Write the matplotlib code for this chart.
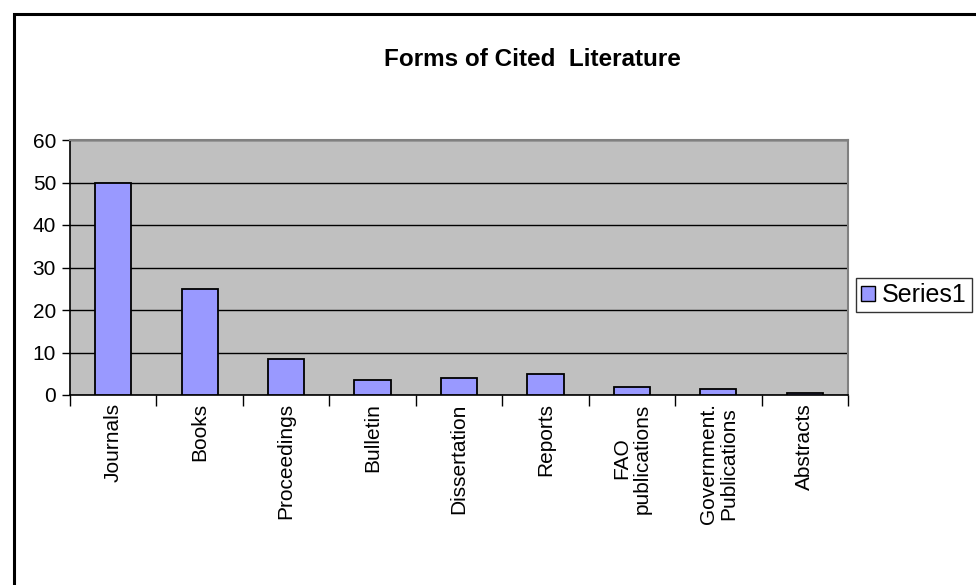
import matplotlib
matplotlib.use("Agg")
import matplotlib.pyplot as plt
from matplotlib.patches import Rectangle, Patch
import numpy as np

plt.rcParams['font.family'] = ['Liberation Sans', 'DejaVu Sans']

categories = ["Journals", "Books", "Proceedings", "Bulletin", "Dissertation",
              "Reports", "FAO\npublications", "Government.\nPublications", "Abstracts"]
values = [50, 25, 8.4, 3.5, 4, 5, 2, 1.5, 0.5]
yticks = [0, 10, 20, 30, 40, 50, 60]
series_name = "Series1"
title = "Forms of Cited  Literature"

W, H = 976, 585
fig = plt.figure(figsize=(W / 100, H / 100), dpi=100)

# outer chart border
fig.patches.append(Rectangle((14 / W, -0.1), 1.2, 1 - 14 / H + 0.1, transform=fig.transFigure,
                             fill=False, edgecolor='black', linewidth=2.2, zorder=0))

ax = fig.add_axes([70 / W, (H - 395) / H, (848 - 70) / W, (395 - 140) / H])
ax.set_facecolor('#C0C0C0')
x = np.arange(len(categories))
ax.bar(x, values, width=0.42, color='#9999FF', edgecolor='black', linewidth=1.3, zorder=3,
       label=series_name)
ax.set_xlim(-0.5, len(categories) - 0.5)
ax.set_ylim(0, 60)
ax.set_yticks(yticks)
ax.set_yticklabels([str(t) for t in yticks], fontsize=15)
ax.yaxis.grid(True, color='black', linewidth=1.0, zorder=1)
ax.set_axisbelow(True)

ax.set_xticks(x)
ax.set_xticklabels(categories, rotation=90, fontsize=15, ha='center', va='top',
                   multialignment='center', linespacing=1.1)
ax.tick_params(axis='x', which='major', length=0, pad=6)
ax.set_xticks(np.arange(-0.5, len(categories), 1.0), minor=True)
ax.tick_params(axis='x', which='minor', length=8, direction='out', width=1, color='black')
ax.tick_params(axis='y', length=6, direction='out', width=1, color='black', pad=4)

for s in ['top', 'right']:
    ax.spines[s].set_color('#808080')
    ax.spines[s].set_linewidth(1.5)
for s in ['left', 'bottom']:
    ax.spines[s].set_color('black')
    ax.spines[s].set_linewidth(1.2)

fig.text(532 / W, 1 - 60 / H, title, ha='center', va='center', fontsize=17.5, fontweight='bold')

handle = Patch(facecolor='#9999FF', edgecolor='black', linewidth=1)
leg = fig.legend([handle], [series_name], loc='upper left',
                 bbox_to_anchor=(856 / W, 1 - 278 / H), fontsize=18, frameon=True,
                 fancybox=False, shadow=False, handlelength=0.55, handleheight=0.55,
                 handletextpad=0.3, borderpad=0.2, borderaxespad=0)
leg.get_frame().set_edgecolor('black')
leg.get_frame().set_linewidth(1)

fig.savefig("out.png", dpi=100)
